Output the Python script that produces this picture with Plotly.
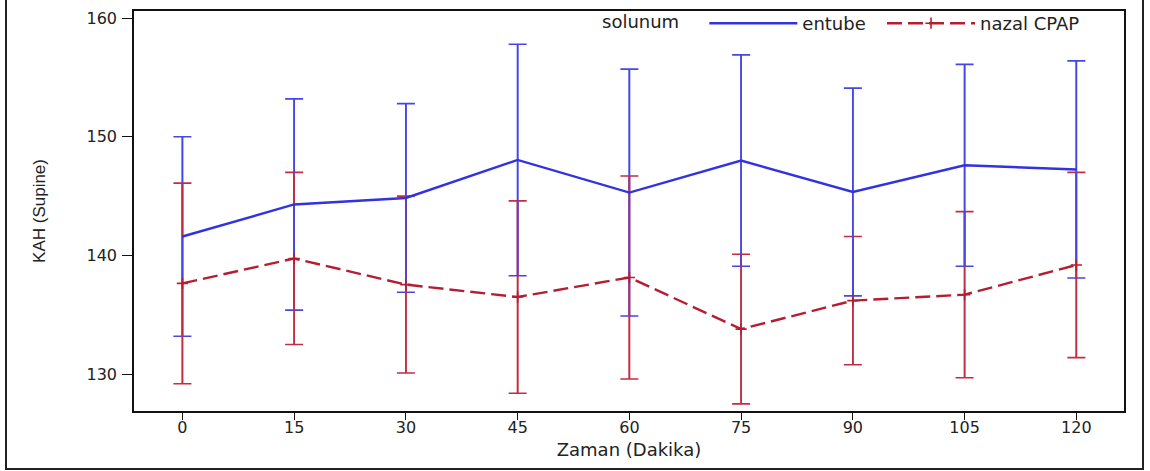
import plotly.graph_objects as go

# Time points (minutes)
zaman = [0, 15, 30, 45, 60, 75, 90, 105, 120]

# Mean and SD of KAH (supine) per group
entube_mean = [141.6, 144.3, 144.85, 148.05, 145.3, 148.0, 145.35, 147.6, 147.25]
entube_sd = [8.4, 8.9, 7.95, 9.75, 10.4, 8.9, 8.75, 8.5, 9.15]

nazal_mean = [137.65, 139.75, 137.55, 136.5, 138.15, 133.8, 136.2, 136.7, 139.2]
nazal_sd = [8.45, 7.25, 7.45, 8.1, 8.55, 6.3, 5.4, 7.0, 7.8]

y_ticks = [130, 140, 150, 160]

BLUE = "rgb(50,50,225)"
BLUE_ERR = "rgb(70,70,230)"
RED = "rgb(180,30,50)"
RED_ERR = "rgb(195,45,65)"

fig = go.Figure()

zeros = [0] * len(zaman)


def err_trace(means, up, down, color, cap):
    return go.Scatter(
        x=zaman, y=means, mode="markers",
        marker=dict(size=1, color="rgba(0,0,0,0)"),
        showlegend=False, hoverinfo="skip",
        error_y=dict(type="data", symmetric=False, array=up, arrayminus=down,
                     color=color, thickness=1.6, width=cap),
    )


# Caps at both ends of each bar
fig.add_trace(err_trace(entube_mean, entube_sd, entube_sd, BLUE_ERR, 9))
fig.add_trace(err_trace(nazal_mean, nazal_sd, nazal_sd, RED_ERR, 9))
# Half-bars (no caps) layered: upper halves first, then lower halves
fig.add_trace(err_trace(entube_mean, entube_sd, zeros, BLUE_ERR, 0))
fig.add_trace(err_trace(nazal_mean, nazal_sd, zeros, RED_ERR, 0))
fig.add_trace(err_trace(entube_mean, zeros, entube_sd, BLUE_ERR, 0))
fig.add_trace(err_trace(nazal_mean, zeros, nazal_sd, RED_ERR, 0))

fig.add_trace(go.Scatter(
    x=zaman, y=entube_mean, mode="lines", name="entube",
    line=dict(color=BLUE, width=2.4), legend="legend",
))
fig.add_trace(go.Scatter(
    x=zaman, y=nazal_mean, mode="lines+markers", name="nazal CPAP",
    line=dict(color=RED, width=2.4, dash="15px,6px"),
    marker=dict(symbol="cross-thin", size=8, line=dict(color=RED, width=1.6)),
    legend="legend2",
))

L, R, T, B = 134, 26, 11, 60
W, H = 1150, 471
pw, ph = W - L - R, H - T - B

FAMILY = "DejaVu Sans, Verdana, sans-serif"
text_font = dict(family=FAMILY, size=18, color="#222")

legend_common = dict(
    orientation="h", xanchor="left", y=1.015, yanchor="top",
    font=text_font, bgcolor="rgba(0,0,0,0)", itemwidth=88,
)

fig.update_layout(
    width=W, height=H,
    margin=dict(l=L, r=R, t=T, b=B, autoexpand=False),
    paper_bgcolor="white", plot_bgcolor="white",
    font=text_font,
    legend=dict(
        x=(600 - L) / pw,
        title=dict(text="solunum\u00a0\u00a0\u00a0", side="left", font=text_font),
        **legend_common,
    ),
    legend2=dict(x=(882 - L) / pw, **legend_common),
    xaxis=dict(
        range=[-6.5, 126.4], tickvals=zaman, ticktext=[str(t) for t in zaman],
        showgrid=False, zeroline=False, showline=True, linecolor="#111",
        linewidth=1.5, mirror=True, ticks="outside", ticklen=7, tickwidth=1.2,
        tickcolor="#111", tickfont=dict(family=FAMILY, size=16, color="#222"),
        ticklabelstandoff=-6,
        title=dict(text="Zaman (Dakika)", font=dict(family=FAMILY, size=18, color="#222"), standoff=7),
    ),
    yaxis=dict(
        range=[126.9, 160.6], tickvals=y_ticks,
        showgrid=False, zeroline=False, showline=True, linecolor="#111",
        linewidth=1.5, mirror=True, ticks="outside", ticklen=10, tickwidth=1.2,
        tickcolor="#111", tickfont=dict(family=FAMILY, size=16, color="#222"),
        ticklabelstandoff=2,
        title=dict(text="KAH (Supine)", font=dict(family="Liberation Sans Narrow, Liberation Sans, Arial, sans-serif", size=17, color="#222"), standoff=37),
    ),
)

# Outer frame around the whole figure
fig.add_shape(
    type="rect", xref="paper", yref="paper",
    x0=(6 - L) / pw, x1=(1143 - L) / pw,
    y0=(T + ph - 469) / ph, y1=(T + ph + 10) / ph,
    line=dict(color="#222", width=2), fillcolor="rgba(0,0,0,0)", layer="below",
)

fig.write_html("out.html")
